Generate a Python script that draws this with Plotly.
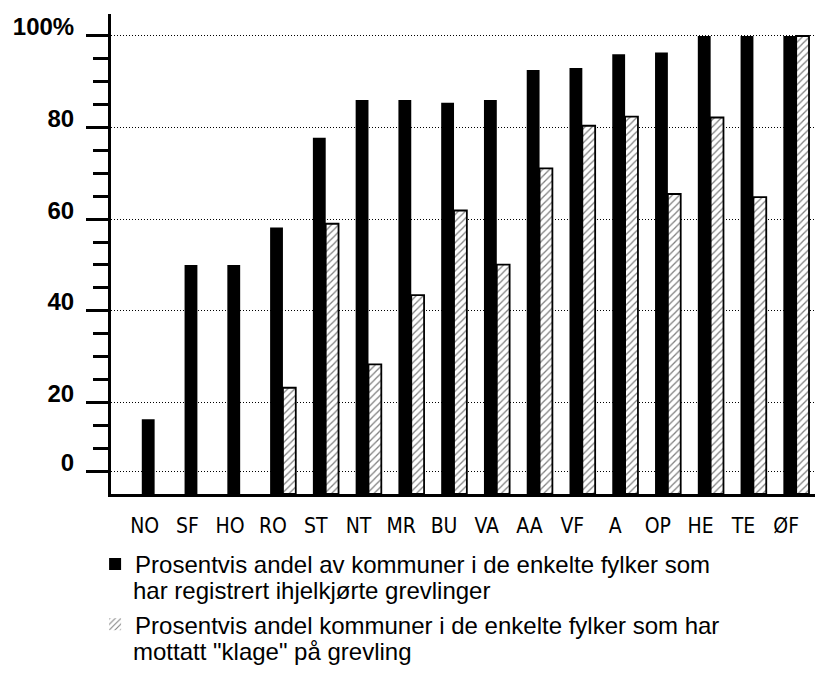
import plotly.graph_objects as go

categories = ["NO", "SF", "HO", "RO", "ST", "NT", "MR", "BU", "VA", "AA", "VF", "A", "OP", "HE", "TE", "ØF"]
registrert = [16.3, 50, 50, 58.2, 77.8, 86, 86, 85.4, 86, 92.6, 93, 96, 96.4, 100, 100, 100]
klage = [0, 0, 0, 23.2, 59, 28.3, 43.4, 61.9, 50.1, 71.1, 80.4, 82.4, 65.5, 82.2, 64.8, 100]

y_tickvals = [5, 20, 40, 60, 80, 100]
y_ticktext = ["0", "20", "40", "60", "80", "100%"]
y_minor = [10, 15, 25, 30, 35, 45, 50, 55, 65, 70, 75, 85, 90, 95]

legend1 = ["Prosentvis andel av kommuner i de enkelte fylker som",
           "har registrert ihjelkjørte grevlinger"]
legend2 = ["Prosentvis andel kommuner i de enkelte fylker som har",
           "mottatt \"klage\" på grevling"]

narrow = "Liberation Sans Narrow, Arial Narrow, DejaVu Sans Condensed, sans-serif"
sans = "Liberation Sans, Arial, Helvetica, sans-serif"

fig = go.Figure()
fig.add_trace(go.Bar(
    x=categories, y=registrert, name=legend1[0], legendgroup="a",
    marker=dict(color="black", line=dict(width=0)),
))
fig.add_trace(go.Bar(
    x=categories, y=klage, name=legend2[0], legendgroup="b",
    marker=dict(color="white",
                line=dict(color="black", width=[0 if v == 0 else 1.8 for v in klage]),
                pattern=dict(shape="/", fgcolor="black", bgcolor="white", size=5, solidity=0.25)),
))

# second lines of the legend entries
fig.add_annotation(text=legend1[1], xref="paper", yref="paper", x=0.0282, y=-0.2017,
                   xanchor="left", yanchor="middle", showarrow=False,
                   font=dict(family=sans, size=24, color="black"))
fig.add_annotation(text=legend2[1], xref="paper", yref="paper", x=0.0282, y=-0.3285,
                   xanchor="left", yanchor="middle", showarrow=False,
                   font=dict(family=sans, size=24, color="black"))

fig.update_layout(
    width=815, height=666,
    margin=dict(l=99, r=5, t=5, b=180),
    paper_bgcolor="white", plot_bgcolor="white",
    barmode="group", bargap=0.4, bargroupgap=0,
    showlegend=True,
    legend=dict(
        x=-0.0225, y=-0.0998, xanchor="left", yanchor="top",
        font=dict(family=sans, size=24, color="black"),
        tracegroupgap=26, traceorder="grouped",
        bgcolor="rgba(0,0,0,0)",
    ),
    xaxis=dict(
        type="category", range=[-1.02, 15.51],
        showline=True, linecolor="black", linewidth=3,
        showgrid=False, zeroline=False, ticks="",
        tickfont=dict(family=narrow, size=21, color="black"),
        ticklabelshift=-10, ticklabelstandoff=11,
    ),
    yaxis=dict(
        range=[0, 104.8],
        showline=True, linecolor="black", linewidth=3,
        zeroline=False,
        tickmode="array", tickvals=y_tickvals, ticktext=y_ticktext,
        ticks="outside", ticklen=22, tickwidth=3, tickcolor="black",
        tickfont=dict(family=sans, size=24, color="black", weight="bold"),
        ticklabelstandoff=7, ticklabelshift=-9,
        showgrid=True, gridcolor="black", griddash="1px,2px", gridwidth=1,
        minor=dict(tickmode="array", tickvals=y_minor, ticks="outside", ticklen=15,
                   tickwidth=3, tickcolor="black", showgrid=False),
    ),
)

fig.write_html("out.html")
